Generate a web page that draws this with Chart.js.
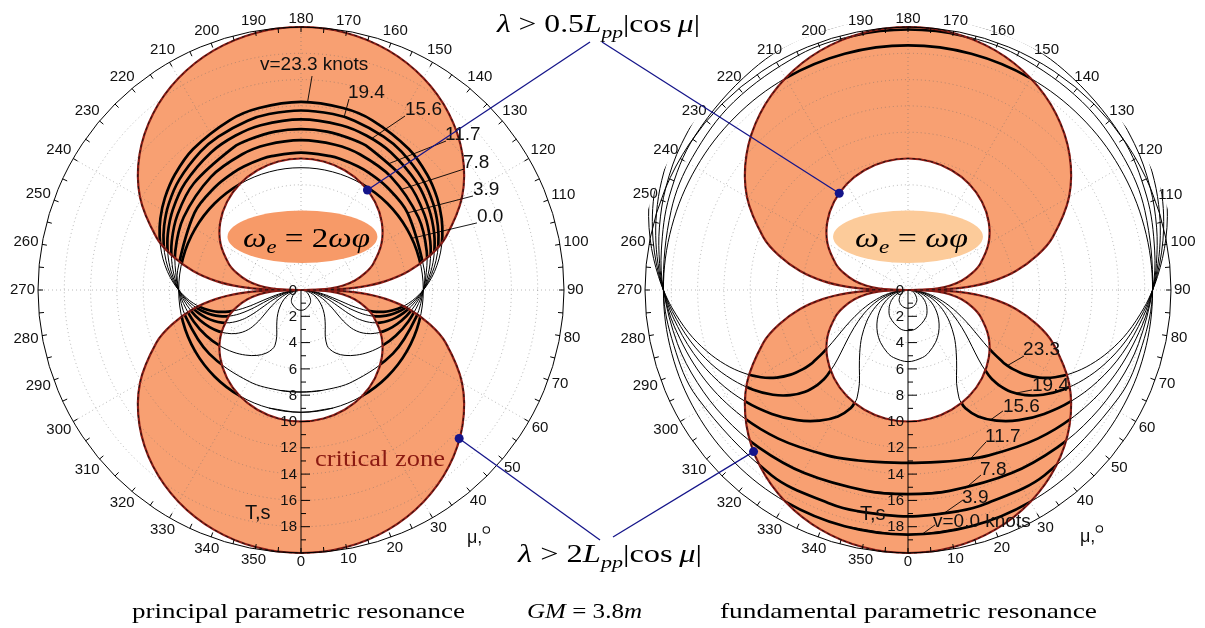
<!DOCTYPE html>
<html>
<head>
<meta charset="utf-8">
<script src="https://cdn.jsdelivr.net/npm/chart.js@4.4.1/dist/chart.umd.min.js"></script>
<style>
html,body{margin:0;padding:0;background:#ffffff;}
#wrap{position:relative;width:1205px;height:628px;}
canvas{display:block;}
</style>
</head>
<body>
<div id="wrap"><canvas id="c" width="1205" height="628"></canvas></div>
<script>
// ================= DATA =================
// angle labels (mu, degrees) and radial tick labels (T, s)
const angleLabels = [0,10,20,30,40,50,60,70,80,90,100,110,120,130,140,150,160,170,180,190,200,210,220,230,240,250,260,270,280,290,300,310,320,330,340,350];
const radialLabels = [0,2,4,6,8,10,12,14,16,18];

// critical zone boundary, one quadrant (mu from 0 to 90), period T in s
const zoneMu     = [0, 10, 20, 30, 40, 50, 60, 70, 75, 80, 84, 87, 89, 90];
const zoneOuterT = [20.0, 19.85, 19.39, 18.61, 17.50, 16.03, 14.14, 11.70, 10.17, 8.33, 6.47, 4.58, 2.64, 0];
const zoneInnerT = [10.0, 9.92, 9.69, 9.31, 8.75, 8.02, 7.07, 5.85, 5.09, 4.17, 3.23, 2.29, 1.32, 0];

// principal parametric resonance curves: branches of [T, mu] (mu 0..180, mirrored)
const p_v00 = [[[9.3,0],[9.3,15],[9.3,30],[9.3,45],[9.3,60],[9.3,75],[9.3,90],[9.3,105],[9.3,120],[9.3,135],[9.3,150],[9.3,165],[9.3,180]]];
const p_v39 = [
  [[0,90],[0.25,79.1],[0.5,68.4],[1,46.0],[1.25,32.6],[1.5,11.7],[1.54,0]],
  [[7.76,0],[7.8,11.7],[8,29.5],[8.5,55.3],[9,76.9],[9.3,90],[9.5,99.1],[10,125.9],[10.2,140.2],[10.3,149.5],[10.35,155.4],[10.4,163.2],[10.42,167.6],[10.44,180]]
];
const p_v78 = [[[0,90],[0.25,84.6],[0.5,79.4],[1,69.7],[1.5,60.7],[2,52.3],[2.5,44.7],[3,37.7],[3.5,31.8],[4,27.5],[4.65,25.2],[5,25.9],[5.5,29.0],[6,34.0],[6.5,40.4],[7,47.6],[7.5,55.6],[8,64.2],[8.5,73.5],[9,83.5],[9.3,90],[9.5,94.6],[10,107.0],[10.5,121.8],[11,141.5],[11.25,156.6],[11.35,166.8],[11.4,180]]];
const p_v117 = [[[0,90],[0.5,83.0],[1,76.6],[1.5,70.9],[2,66.0],[2.5,61.7],[3,58.2],[3.5,55.5],[4,53.7],[4.65,52.9],[5,53.1],[5.5,54.3],[6,56.5],[6.5,59.5],[7,63.3],[7.5,67.9],[8,73.1],[8.5,79.1],[9,85.7],[9.3,90],[9.5,93.0],[10,101.3],[10.5,110.6],[11,121.4],[11.5,134.9],[12,154.7],[12.1,161.0],[12.2,170.7],[12.23,180]]];
const p_v156 = [[[0,90],[0.5,84.7],[1,80.0],[1.5,75.8],[2,72.2],[2.5,69.2],[3,66.7],[3.5,64.9],[4,63.7],[4.65,63.1],[5,63.3],[5.5,64.1],[6,65.5],[6.5,67.6],[7,70.3],[7.5,73.6],[8,77.4],[8.5,81.8],[9,86.8],[9.3,90],[9.5,92.3],[10,98.4],[10.5,105.3],[11,113.0],[11.5,122.0],[12,132.7],[12.5,146.8],[12.75,156.9],[12.9,166.3],[12.98,180]]];
const p_v194 = [[[0,90],[0.5,85.8],[1,82.0],[1.5,78.6],[2,75.8],[2.5,73.4],[3,71.5],[3.5,70.0],[4,69.1],[4.65,68.7],[5,68.8],[5.5,69.4],[6,70.5],[6.5,72.2],[7,74.3],[7.5,76.9],[8,79.9],[8.5,83.4],[9,87.4],[9.3,90],[9.5,91.8],[10,96.8],[10.5,102.2],[11,108.3],[11.5,115.2],[12,123.0],[12.5,132.3],[13,144.0],[13.25,151.7],[13.5,162.5],[13.6,169.7],[13.65,180]]];
const p_v233 = [[[0,90],[0.5,86.5],[1,83.3],[1.5,80.6],[2,78.2],[2.5,76.2],[3,74.7],[3.5,73.5],[4,72.7],[4.65,72.4],[5,72.5],[5.5,73.0],[6,73.9],[6.5,75.2],[7,77.0],[7.5,79.1],[8,81.6],[8.5,84.5],[9,87.8],[9.3,90],[9.5,91.5],[10,95.6],[10.5,100.2],[11,105.2],[11.5,110.8],[12,117.0],[12.5,124.1],[13,132.4],[13.5,142.6],[14,157.2],[14.2,167.0],[14.3,180]]];

// fundamental parametric resonance curves
const f_v00 = [[[18.6,0],[18.6,15],[18.6,30],[18.6,45],[18.6,60],[18.6,75],[18.6,90],[18.6,105],[18.6,120],[18.6,135],[18.6,150],[18.6,165],[18.6,180]]];
const f_v39 = [
  [[0,90],[0.25,78.9],[0.5,67.7],[1,42.6],[1.25,24.8],[1.35,13.0],[1.39,0]],
  [[17.21,0],[17.25,13.0],[17.3,19.8],[17.5,36.4],[18,63.1],[18.3,76.7],[18.6,90],[19,108.6],[19.25,121.6],[19.5,137.2],[19.7,155.1],[19.78,167.7],[19.81,180]]
];
const f_v78 = [
  [[0,90],[0.25,84.5],[0.5,79.1],[1,68.4],[1.5,57.5],[2,46.0],[2.5,32.6],[3,11.7],[3.09,0]],
  [[15.52,0],[15.6,11.7],[16,29.5],[16.5,43.5],[17,55.3],[17.5,66.3],[18,76.9],[18.6,90],[19,99.2],[19.5,111.5],[20,125.9],[20.5,144.6],[20.75,159.0],[20.89,180]]
];
const f_v117 = [
  [[0,90],[0.25,86.3],[0.5,82.7],[1,75.8],[1.5,69.0],[2,62.4],[2.5,55.8],[3,49.2],[3.5,42.5],[4,35.5],[4.5,27.7],[5,18.5],[5.25,12.2],[5.45,0]],
  [[13.15,0],[13.3,10.5],[13.5,16.2],[14,26.1],[15,41.1],[16,54.5],[17,67.7],[18,81.3],[18.6,90],[19,96.1],[19.5,104.2],[20,113.0],[20.5,122.9],[21,134.7],[21.5,150.4],[21.75,162.9],[21.88,180]]
];
const f_v156 = [[[0,90],[0.25,87.2],[0.5,84.6],[1,79.4],[1.5,74.4],[2,69.7],[2.5,65.1],[3,60.7],[3.5,56.4],[4,52.3],[5,44.7],[6,37.7],[7,31.9],[8,27.5],[9,25.4],[9.3,25.2],[10,25.9],[11,29.0],[12,34.1],[13,40.4],[14,47.7],[15,55.6],[16,64.2],[17,73.5],[18,83.5],[18.6,90],[19,94.6],[19.5,100.6],[20,107.0],[20.5,114.0],[21,121.8],[21.5,130.7],[22,141.5],[22.5,157.0],[22.79,180]]];
const f_v194 = [[[0,90],[0.25,87.8],[0.5,85.6],[1,81.5],[1.5,77.5],[2,73.8],[2.5,70.2],[3,66.8],[3.5,63.6],[4,60.6],[5,55.1],[6,50.5],[7,46.9],[8,44.5],[9,43.4],[9.3,43.3],[10,43.7],[11,45.3],[12,48.2],[13,52.2],[14,57.2],[15,63.0],[16,69.5],[17,76.8],[18,84.8],[18.6,90],[19,93.7],[19.5,98.5],[20,103.6],[20.5,109.1],[21,115.1],[21.5,121.6],[22,129.0],[23,148.4],[23.63,180]]];
const f_v233 = [[[0,90],[0.25,88.2],[0.5,86.4],[1,82.9],[1.5,79.7],[2,76.6],[2.5,73.6],[3,70.9],[3.5,68.3],[4,65.9],[5,61.6],[6,58.0],[7,55.3],[8,53.6],[9,52.8],[9.3,52.7],[10,53.0],[11,54.2],[12,56.3],[13,59.3],[14,63.2],[15,67.8],[16,73.1],[17,79.0],[18,85.7],[18.6,90],[19,93.1],[19.5,97.1],[20,101.3],[20.5,105.8],[21,110.7],[21.5,115.9],[22,121.6],[23,135.1],[24,155.2],[24.44,180]]];

// speed labels
const pSpeedText = ['v=23.3 knots','19.4','15.6','11.7','7.8','3.9','0.0'];
const fSpeedText = ['23.3','19.4','15.6','11.7','7.8','3.9','v=0.0 knots'];

// ================= LAYOUT =================
const PX = 13.15;                       // pixels per second of period
const X_MIN = -301 / PX, X_MAX = 904 / PX;
const Y_MAX = 290 / PX,  Y_MIN = -338 / PX;
const PANEL_CX = [0, 607 / PX];
const CURVE_CLIP_T = 20.7;
const ORANGE = '#F8A072';
const NAVY = '#15158a';

// label anchors (s units relative to panel centre) and leader targets [mu, T]
const pLabelPos   = [[-3.12,17.11],[3.57,14.98],[7.91,13.69],[10.95,11.79],[12.32,9.66],[13.08,7.60],[13.38,5.55]];
const pLeaderFrom = [[0.84,16.27],[3.65,14.52],[7.91,13.23],[11.03,11.33],[12.40,9.20],[13.08,7.15],[13.38,5.10]];
const pLeaderTo   = [[178,14.3],[166,13.55],[155,12.70],[145,11.76],[135,10.83],[125.9,10.0],[115,9.3]];
const fLabelPos   = [[8.75,-4.56],[9.43,-7.30],[7.22,-8.90],[5.86,-11.18],[5.48,-13.69],[4.11,-15.82],[1.90,-17.64]];
const fLeaderFrom = [[8.82,-5.02],[9.43,-7.60],[7.22,-9.20],[5.93,-11.56],[5.55,-14.07],[4.18,-15.97],[2.05,-17.87]];
const fLeaderTo   = [[52.8,9.5],[46.3,11.35],[32.6,11.7],[20.2,13.7],[16.1,15.7],[9,17.22],[3.3,18.6]];

function pol(cx, T, mu) {
  const a = mu * Math.PI / 180;
  return { x: cx + T * Math.sin(a), y: -T * Math.cos(a) };
}
// mirror a branch (mu in 0..180) to a closed loop; wrap one point at each end for a smooth join
function buildLoop(cx, branch) {
  const pts = branch.map(p => [p[0], p[1]]);
  for (let i = branch.length - 1; i >= 0; i--) {
    const T = branch[i][0], m = branch[i][1];
    if (i === branch.length - 1 && (m === 0 || m === 180)) continue;
    pts.push([T, -m]);
  }
  const n = pts.length;
  const wrapped = [pts[n - 2]].concat(pts, [pts[1]]);
  return wrapped.map(p => pol(cx, p[0], p[1]));
}

const principal = [p_v00, p_v39, p_v78, p_v117, p_v156, p_v194, p_v233];
const fundamental = [f_v00, f_v39, f_v78, f_v117, f_v156, f_v194, f_v233];

const datasets = [];
PANEL_CX.forEach((cx, pi) => {
  const lobes = [
    zoneMu.map((m, i) => [zoneOuterT[i], 180 - m]).reverse(),
    zoneMu.map((m, i) => [zoneInnerT[i], 180 - m]).reverse(),
    zoneMu.map((m, i) => [zoneOuterT[i], m]).reverse(),
    zoneMu.map((m, i) => [zoneInnerT[i], m]).reverse()
  ];
  lobes.forEach(b => datasets.push({
    kind: 'zone', panel: pi, data: buildLoop(cx, b),
    borderColor: '#8e1d16', borderWidth: 2.2, tension: 0.35, pointRadius: 0, fill: false
  }));
});
PANEL_CX.forEach((cx, pi) => {
  (pi === 0 ? principal : fundamental).forEach(curve => curve.forEach(b => datasets.push({
    kind: 'curve', panel: pi, data: buildLoop(cx, b),
    borderColor: '#000', borderWidth: 1, tension: 0.35, pointRadius: 0, fill: false
  })));
});

// ================= DRAW HELPERS =================
function kpx(chart) { return chart.scales.x.getPixelForValue(1) - chart.scales.x.getPixelForValue(0); }
function toPx(chart, pi, u, w) {
  return { x: chart.scales.x.getPixelForValue(PANEL_CX[pi] + u), y: chart.scales.y.getPixelForValue(w) };
}
function polPx(chart, pi, mu, T) {
  const a = mu * Math.PI / 180;
  return toPx(chart, pi, T * Math.sin(a), -T * Math.cos(a));
}
function trace(ctx, pts) {
  const n = pts.length;
  ctx.moveTo(pts[1].x, pts[1].y);
  for (let i = 2; i <= n - 2; i++) {
    const p = pts[i - 1], c = pts[i];
    if (p.cp2x !== undefined && c.cp1x !== undefined && isFinite(p.cp2x) && isFinite(c.cp1x)) {
      ctx.bezierCurveTo(p.cp2x, p.cp2y, c.cp1x, c.cp1y, c.x, c.y);
    } else ctx.lineTo(c.x, c.y);
  }
}
function zonePath(chart, pi) {
  chart.data.datasets.forEach((ds, i) => {
    if (ds.kind === 'zone' && ds.panel === pi) {
      trace(chart.ctx, chart.getDatasetMeta(i).data);
      chart.ctx.closePath();
    }
  });
}
function drawGrid(ctx, cx, cy, k) {
  ctx.save();
  ctx.strokeStyle = 'rgba(105,105,105,0.6)';
  ctx.lineWidth = 0.8;
  ctx.setLineDash([1, 3]);
  for (let t = 2; t < 20; t += 2) { ctx.beginPath(); ctx.arc(cx, cy, t * k, 0, 2 * Math.PI); ctx.stroke(); }
  for (let d = 30; d < 360; d += 30) {
    const a = d * Math.PI / 180;
    ctx.beginPath(); ctx.moveTo(cx, cy); ctx.lineTo(cx + 20 * k * Math.sin(a), cy + 20 * k * Math.cos(a)); ctx.stroke();
  }
  ctx.restore();
}
function drawFrame(ctx, cx, cy, k) {
  const R = 20 * k;
  ctx.save();
  ctx.strokeStyle = '#000'; ctx.lineWidth = 1;
  ctx.beginPath(); ctx.arc(cx, cy, R, 0, 2 * Math.PI); ctx.stroke();
  ctx.beginPath();
  for (let d = 0; d < 360; d += 5) {
    const a = d * Math.PI / 180, s = Math.sin(a), c = Math.cos(a);
    ctx.moveTo(cx + R * s, cy + R * c); ctx.lineTo(cx + (R - 5) * s, cy + (R - 5) * c);
  }
  ctx.stroke();
  ctx.fillStyle = '#111';
  ctx.font = '15px "Liberation Sans", Arial, sans-serif';
  ctx.textAlign = 'center'; ctx.textBaseline = 'middle';
  angleLabels.forEach(d => {
    const txt = String(d), w = ctx.measureText(txt).width;
    const a = d * Math.PI / 180, s = Math.sin(a), c = Math.cos(a);
    const rr = R + 3 + 0.5 * (w * Math.abs(s) + 11 * Math.abs(c));
    ctx.fillText(txt, cx + rr * s, cy + rr * c);
  });
  // radial axis
  ctx.beginPath();
  ctx.moveTo(cx, cy); ctx.lineTo(cx, cy + R);
  for (let t = 1; t < 20; t++) { ctx.moveTo(cx, cy + t * k); ctx.lineTo(cx + (t % 2 === 0 ? 9 : 5), cy + t * k); }
  ctx.stroke();
  ctx.textAlign = 'right';
  radialLabels.forEach(t => ctx.fillText(String(t), cx - 4, cy + t * k + 0.5));
  ctx.restore();
}
function drawFit(ctx, text, font, x, yBase, targetW, color) {
  ctx.save();
  ctx.font = font; ctx.fillStyle = color || '#000';
  ctx.textAlign = 'left'; ctx.textBaseline = 'alphabetic';
  const w = ctx.measureText(text).width;
  ctx.translate(x, yBase); ctx.scale(targetW / w, 1);
  ctx.fillText(text, 0, 0);
  ctx.restore();
}
function drawMath(ctx, parts, x, yBase, size, targetW) {
  const f = p => (p.it ? 'italic ' : '') + (p.sub ? size * 0.68 : size) + 'px "Liberation Serif", "Times New Roman", serif';
  let w = 0;
  parts.forEach(p => { ctx.font = f(p); w += ctx.measureText(p.t).width; });
  ctx.save();
  ctx.fillStyle = '#000'; ctx.textAlign = 'left'; ctx.textBaseline = 'alphabetic';
  ctx.translate(x, yBase); ctx.scale(targetW / w, 1);
  let cx = 0;
  parts.forEach(p => { ctx.font = f(p); ctx.fillText(p.t, cx, p.sub ? size * 0.22 : 0); cx += ctx.measureText(p.t).width; });
  ctx.restore();
}

const polarPlugin = {
  id: 'polarDecor',
  beforeDatasetsDraw(chart) {
    const ctx = chart.ctx, k = kpx(chart);
    chart.data.datasets.forEach((ds, i) => {
      const meta = chart.getDatasetMeta(i);
      if (meta.dataset && meta.dataset.updateControlPoints) meta.dataset.updateControlPoints(chart.chartArea, 'x');
    });
    [0, 1].forEach(pi => {
      const c = toPx(chart, pi, 0, 0);
      ctx.save();
      ctx.beginPath(); zonePath(chart, pi);
      ctx.fillStyle = ORANGE; ctx.fill('evenodd');
      ctx.restore();
      drawGrid(ctx, c.x, c.y, k);
    });
  },
  beforeDatasetDraw(chart, args) {
    const ds = chart.data.datasets[args.index];
    if (ds.kind !== 'curve') return;
    const ctx = chart.ctx, k = kpx(chart), c = toPx(chart, ds.panel, 0, 0);
    ctx.save();
    ctx.beginPath(); ctx.arc(c.x, c.y, CURVE_CLIP_T * k, 0, 2 * Math.PI); ctx.clip();
  },
  afterDatasetDraw(chart, args) {
    const ds = chart.data.datasets[args.index];
    const ctx = chart.ctx;
    const pts = args.meta.data;
    if (ds.kind === 'curve') {
      ctx.save();
      ctx.beginPath(); zonePath(chart, ds.panel); ctx.clip('evenodd');
      ctx.beginPath(); trace(ctx, pts);
      ctx.lineWidth = 2.7; ctx.strokeStyle = '#000'; ctx.lineJoin = 'round'; ctx.lineCap = 'round';
      ctx.stroke();
      ctx.restore();
      ctx.restore(); // circle clip
    } else if (ds.kind === 'zone') {
      ctx.save();
      ctx.beginPath(); trace(ctx, pts);
      ctx.setLineDash([3, 3]); ctx.lineWidth = 0.9; ctx.strokeStyle = '#111';
      ctx.stroke();
      ctx.restore();
    }
  },
  afterDatasetsDraw(chart) {
    const ctx = chart.ctx, k = kpx(chart);
    [0, 1].forEach(pi => {
      const c = toPx(chart, pi, 0, 0);
      drawFrame(ctx, c.x, c.y, k);
      ctx.save();
      ctx.fillStyle = '#111'; ctx.textAlign = 'left'; ctx.textBaseline = 'middle';
      // T,s label
      ctx.font = '20px "Liberation Sans", Arial, sans-serif';
      const ts = pi === 0 ? toPx(chart, 0, -4.26, -16.96) : toPx(chart, 1, -3.65, -17.1);
      ctx.fillText('T,s', ts.x, ts.y);
      // mu label
      ctx.font = '18px "Liberation Sans", Arial, sans-serif';
      const ml = pi === 0 ? toPx(chart, 0, 12.62, -18.86) : toPx(chart, 1, 13.08, -18.78);
      ctx.fillText('μ,', ml.x, ml.y);
      const mw = ctx.measureText('μ,').width;
      ctx.beginPath(); ctx.lineWidth = 1.1; ctx.strokeStyle = '#111';
      ctx.arc(ml.x + mw + 4, ml.y - 8, 3.2, 0, 2 * Math.PI); ctx.stroke();
      // speed labels + leaders
      const texts = pi === 0 ? pSpeedText : fSpeedText;
      const pos = pi === 0 ? pLabelPos : fLabelPos;
      const from = pi === 0 ? pLeaderFrom : fLeaderFrom;
      const to = pi === 0 ? pLeaderTo : fLeaderTo;
      ctx.font = '19px "Liberation Sans", Arial, sans-serif';
      ctx.strokeStyle = '#000'; ctx.lineWidth = 0.9;
      texts.forEach((t, i) => {
        const p = toPx(chart, pi, pos[i][0], pos[i][1]);
        ctx.fillText(t, p.x, p.y);
        const a = toPx(chart, pi, from[i][0], from[i][1]);
        const b = polPx(chart, pi, to[i][0], to[i][1]);
        ctx.beginPath(); ctx.moveTo(a.x, a.y); ctx.lineTo(b.x, b.y); ctx.stroke();
      });
      ctx.restore();
    });

    // ellipses with resonance condition
    const e0 = toPx(chart, 0, 0.11, 4.05), e1 = toPx(chart, 1, 0, 4.05);
    ctx.save();
    ctx.fillStyle = '#F79A68';
    ctx.beginPath(); ctx.ellipse(e0.x, e0.y, 5.70 * k, 2.0 * k, 0, 0, 2 * Math.PI); ctx.fill();
    ctx.fillStyle = '#FCCB9A';
    ctx.beginPath(); ctx.ellipse(e1.x, e1.y, 5.70 * k, 2.0 * k, 0, 0, 2 * Math.PI); ctx.fill();
    ctx.restore();
    drawMath(ctx, [{t:'ω',it:1},{t:'e',it:1,sub:1},{t:' = 2'},{t:'ωφ',it:1}], 243, 247, 27, 127);
    drawMath(ctx, [{t:'ω',it:1},{t:'e',it:1,sub:1},{t:' = '},{t:'ωφ',it:1}], 855, 247, 27, 113);

    // connector lines to the wavelength conditions
    const dotPolar = [[0,146.4,9.13],[1,215.4,9.03],[0,46.8,16.5],[1,316.3,17.0]];
    const blueEnds = [[590,42],[602,42],[600,540],[613,537]];
    ctx.save();
    ctx.strokeStyle = NAVY; ctx.fillStyle = NAVY; ctx.lineWidth = 1.3;
    dotPolar.forEach((d, i) => {
      const p = polPx(chart, d[0], d[1], d[2]);
      ctx.beginPath(); ctx.moveTo(p.x, p.y); ctx.lineTo(blueEnds[i][0], blueEnds[i][1]); ctx.stroke();
      ctx.beginPath(); ctx.arc(p.x, p.y, 4.5, 0, 2 * Math.PI); ctx.fill();
    });
    ctx.restore();

    // formulas and captions
    drawMath(ctx, [{t:'λ',it:1},{t:' > 0.5'},{t:'L',it:1},{t:'pp',it:1,sub:1},{t:'|cos\u2009'},{t:'μ',it:1},{t:'|'}], 497, 32, 26, 203);
    drawMath(ctx, [{t:'λ',it:1},{t:' > 2'},{t:'L',it:1},{t:'pp',it:1,sub:1},{t:'|cos\u2009'},{t:'μ',it:1},{t:'|'}], 518, 562, 26, 184);
    drawMath(ctx, [{t:'GM',it:1},{t:' = 3.8'},{t:'m',it:1}], 527, 618, 22, 115);
    drawFit(ctx, 'principal parametric resonance', '21px "Liberation Serif", serif', 132, 618, 333);
    drawFit(ctx, 'fundamental parametric resonance', '21px "Liberation Serif", serif', 720, 618, 377);
    drawFit(ctx, 'critical zone', '23px "Liberation Serif", serif', 315, 466, 130, '#8B1A12');
  }
};

new Chart(document.getElementById('c'), {
  type: 'line',
  data: { datasets: datasets },
  options: {
    responsive: false,
    maintainAspectRatio: false,
    animation: false,
    events: [],
    layout: { padding: 0 },
    plugins: { legend: { display: false }, tooltip: { enabled: false }, title: { display: false } },
    elements: { point: { radius: 0 }, line: { borderJoinStyle: 'round', borderCapStyle: 'round' } },
    scales: {
      x: { type: 'linear', min: X_MIN, max: X_MAX, display: false },
      y: { type: 'linear', min: Y_MIN, max: Y_MAX, display: false }
    }
  },
  plugins: [polarPlugin]
});
</script>
</body>
</html>
